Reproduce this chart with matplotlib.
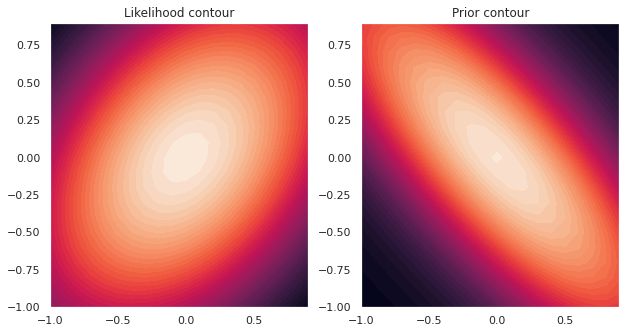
import numpy as np
import matplotlib
matplotlib.use("Agg")
import matplotlib.pyplot as plt
import seaborn as sns

sns.set_theme()

# grid of weights (w0, w1)
w_grid = np.arange(-1, 1, 0.1)

# gaussian parameters
lik_mean = [0.0, 0.0]
lik_cov = [[1.0, 0.4], [0.4, 1.0]]
prior_mean = [0.0, 0.0]
prior_cov = [[1.0, -0.8], [-0.8, 1.0]]

titles = ["Likelihood contour", "Prior contour"]
n_levels = 50


def gauss_pdf(X, Y, mean, cov):
    cov = np.array(cov)
    inv = np.linalg.inv(cov)
    dx = X - mean[0]
    dy = Y - mean[1]
    q = inv[0, 0] * dx**2 + 2 * inv[0, 1] * dx * dy + inv[1, 1] * dy**2
    return np.exp(-0.5 * q) / (2 * np.pi * np.sqrt(np.linalg.det(cov)))


X, Y = np.meshgrid(w_grid, w_grid)
Z_lik = gauss_pdf(X, Y, lik_mean, lik_cov)
Z_prior = gauss_pdf(X, Y, prior_mean, prior_cov)

cmap = sns.color_palette("rocket", as_cmap=True)

fig, axes = plt.subplots(1, 2, figsize=(620 / 72, 329 / 72), dpi=72)
fig.subplots_adjust(left=50 / 620, right=0.999, bottom=22 / 329, top=306 / 329, wspace=0.205)

for ax, Z, t in zip(axes, [Z_lik, Z_prior], titles):
    ax.contourf(X, Y, Z, levels=n_levels, cmap=cmap)
    ax.set_title(t)

fig.savefig("out.png", dpi=72)
